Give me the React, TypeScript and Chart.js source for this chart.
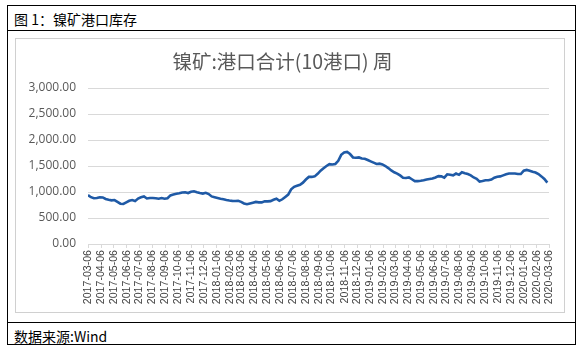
import React, { useEffect, useRef } from "react";
import { Chart, registerables } from "chart.js";
Chart.register(...registerables);

const HEADER_LABEL = "图";
const HEADER_NUM = "1";
const HEADER_TEXT = "：镍矿港口库存";
const SOURCE_TEXT = "数据来源:Wind";
const CHART_TITLE = "镍矿:港口合计(10港口) 周";

const START_DATE = "2017-03-06";
const WEEK_DAYS = 7;

const Y_MIN = 0;
const Y_MAX = 3000;
const Y_STEP = 500;

const TICK_LABELS = [
  "2017-03-06", "2017-04-06", "2017-05-06", "2017-06-06", "2017-07-06", "2017-08-06",
  "2017-09-06", "2017-10-06", "2017-11-06", "2017-12-06", "2018-01-06", "2018-02-06",
  "2018-03-06", "2018-04-06", "2018-05-06", "2018-06-06", "2018-07-06", "2018-08-06",
  "2018-09-06", "2018-10-06", "2018-11-06", "2018-12-06", "2019-01-06", "2019-02-06",
  "2019-03-06", "2019-04-06", "2019-05-06", "2019-06-06", "2019-07-06", "2019-08-06",
  "2019-09-06", "2019-10-06", "2019-11-06", "2019-12-06", "2020-01-06", "2020-02-06",
  "2020-03-06",
];

// weekly port inventory readings, starting 2017-03-06
const WEEKLY_VALUES = [
  940, 900, 880, 885, 900, 895, 865, 850, 840, 845,
  810, 775, 770, 800, 830, 845, 825, 875, 900, 915,
  875, 885, 885, 880, 870, 885, 870, 880, 935, 950,
  965, 975, 990, 995, 980, 1005, 1015, 995, 980, 970,
  985, 960, 915, 900, 885, 870, 860, 845, 835, 830,
  828, 830, 810, 780, 765, 780, 795, 810, 800, 800,
  820, 820, 825, 850, 870, 830, 860, 905, 950, 1050,
  1100, 1120, 1140, 1180, 1240, 1290, 1290, 1300, 1350, 1410,
  1455, 1500, 1535, 1530, 1540, 1600, 1715, 1760, 1770, 1730,
  1665, 1660, 1665, 1645, 1640, 1615, 1590, 1565, 1540, 1545,
  1530, 1500, 1460, 1415, 1380, 1355, 1320, 1275, 1270, 1280,
  1245, 1210, 1210, 1215, 1225, 1240, 1250, 1258, 1280, 1305,
  1300, 1275, 1340, 1330, 1320, 1355, 1330, 1380, 1360, 1345,
  1320, 1280, 1255, 1200, 1210, 1225, 1225, 1240, 1275, 1295,
  1300, 1320, 1340, 1355, 1355, 1355, 1345, 1345, 1410, 1425,
  1410, 1390, 1375, 1345, 1300, 1250, 1180,
];

const dayOffset = (d: string) =>
  Math.round((Date.parse(d + "T00:00:00Z") - Date.parse(START_DATE + "T00:00:00Z")) / 86400000);

export default function App() {
  const ref = useRef<HTMLCanvasElement | null>(null);

  useEffect(() => {
    if (!ref.current) return;
    const tickOffsets = TICK_LABELS.map(dayOffset);
    const chart = new Chart(ref.current, {
      type: "line",
      data: {
        datasets: [
          {
            data: WEEKLY_VALUES.map((v, i) => ({ x: i * WEEK_DAYS, y: v })),
            borderColor: "#1f5aa6",
            borderWidth: 2.6,
            pointRadius: 0,
            tension: 0,
            fill: false,
          },
        ],
      },
      options: {
        responsive: false,
        animation: false,
        devicePixelRatio: 1,
        layout: { padding: { left: 0, right: 15, top: 0, bottom: 0 } },
        plugins: {
          legend: { display: false },
          tooltip: { enabled: false },
          title: {
            display: true,
            text: CHART_TITLE,
            color: "#595959",
            font: { family: "'Noto Sans CJK SC', 'Noto Sans', sans-serif", size: 19.5, weight: "normal" },
            padding: { top: 11, bottom: 14.6 },
          },
        },
        scales: {
          x: {
            type: "linear",
            min: 0,
            max: tickOffsets[tickOffsets.length - 1],
            afterBuildTicks: (scale: any) => {
              scale.ticks = tickOffsets.map((v) => ({ value: v }));
            },
            afterFit: (scale: any) => {
              scale.height = 68;
            },
            grid: {
              display: true,
              drawOnChartArea: false,
              drawTicks: true,
              tickLength: 4,
              color: "#d9d9d9",
            },
            border: { display: true, color: "#d9d9d9" },
            ticks: {
              autoSkip: false,
              minRotation: 90,
              maxRotation: 90,
              padding: 2,
              color: "#404040",
              font: { family: "'Liberation Sans', Arial, sans-serif", size: 10.6 },
              callback: (_v: any, i: number) => TICK_LABELS[i],
            },
          },
          y: {
            min: Y_MIN,
            max: Y_MAX,
            afterFit: (scale: any) => {
              scale.width = 72;
            },
            grid: { color: "#d9d9d9", drawTicks: false },
            border: { display: false },
            ticks: {
              stepSize: Y_STEP,
              padding: 12,
              color: "#595959",
              font: { family: "'Open Sans', sans-serif", size: 12 },
              callback: (v: any) =>
                Number(v).toLocaleString("en-US", { minimumFractionDigits: 2, maximumFractionDigits: 2 }),
            },
          },
        },
      },
    } as any);
    return () => chart.destroy();
  }, []);

  const cjk = "'Noto Sans CJK SC', 'Noto Sans', sans-serif";

  return (
    <div>
      <div
        style={{
          position: "absolute",
          left: 7,
          top: 5,
          width: 569,
          height: 340,
          boxSizing: "border-box",
          border: "1px solid #000",
        }}
      />
      <div
        style={{
          position: "absolute",
          left: 7,
          top: 30,
          width: 569,
          height: 1,
          background: "#000",
        }}
      />
      <div
        style={{
          position: "absolute",
          left: 7,
          top: 322,
          width: 569,
          height: 1,
          background: "#000",
        }}
      />
      <div
        style={{
          position: "absolute",
          left: 14,
          top: 9,
          height: 20,
          lineHeight: "20px",
          fontSize: 14,
          fontFamily: cjk,
          color: "#000",
          whiteSpace: "nowrap",
        }}
      >
        {HEADER_LABEL} <span style={{ color: "#000" }}>{HEADER_NUM}</span>
        {HEADER_TEXT}
      </div>
      <div
        style={{
          position: "absolute",
          left: 14,
          top: 326,
          height: 20,
          lineHeight: "20px",
          fontSize: 14,
          fontFamily: cjk,
          color: "#000",
          whiteSpace: "nowrap",
        }}
      >
        {SOURCE_TEXT}
      </div>
      <div
        style={{
          position: "absolute",
          left: 15,
          top: 38,
          width: 550,
          height: 275,
          boxSizing: "border-box",
          border: "1px solid #d0d0d0",
          background: "#fff",
        }}
      >
        <canvas ref={ref} width={548} height={273} style={{ display: "block", width: 548, height: 273 }} />
      </div>
    </div>
  );
}
